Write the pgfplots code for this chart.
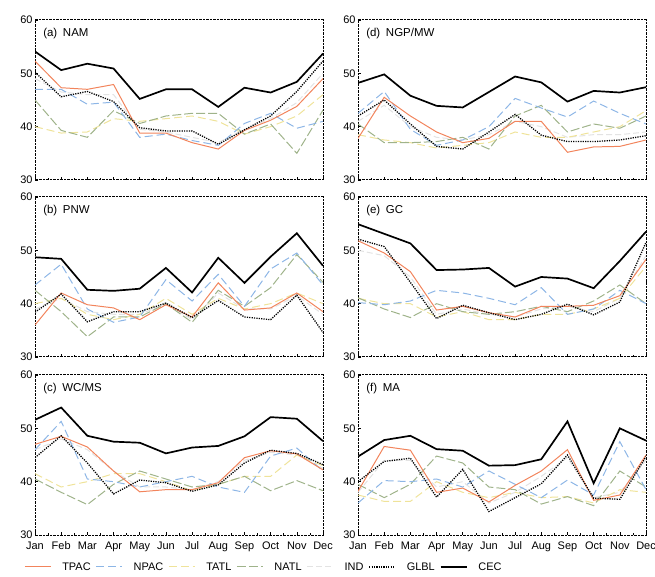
\documentclass[border=0pt]{standalone}
\usepackage{pgfplots}
\pgfplotsset{compat=1.18}
\usepackage{pgfplotstable}
\usepackage{fontspec}
\setmainfont{Liberation Sans}

\definecolor{ctpac}{HTML}{F2845C}
\definecolor{cnpac}{HTML}{8DB6E6}
\definecolor{ctatl}{HTML}{EFE39A}
\definecolor{cnatl}{HTML}{9FB38A}
\definecolor{cind}{HTML}{E3E3E3}

\pgfplotstableread{
m TPAC NPAC TATL NATL IND GLBL CEC
1 52.3 47.0 40.0 45.0 49.0 50.2 54.1
2 47.3 47.0 38.8 39.3 46.5 45.6 50.6
3 47.0 44.2 39.0 38.0 46.0 46.6 51.8
4 47.9 44.6 41.5 43.0 46.0 44.7 50.9
5 38.8 38.0 41.0 40.6 39.5 39.8 45.2
6 38.8 38.6 41.5 42.0 39.0 39.2 47.0
7 37.0 37.4 42.0 42.5 38.0 39.2 47.0
8 35.8 36.5 41.0 42.5 37.0 36.7 43.7
9 39.3 40.6 38.6 38.6 39.5 39.4 47.3
10 41.2 42.5 40.0 40.5 41.5 42.0 46.4
11 43.8 39.7 42.0 35.0 44.5 46.6 48.4
12 49.0 41.0 46.0 43.1 50.0 52.3 53.7
}\tnam
\pgfplotstableread{
m TPAC NPAC TATL NATL IND GLBL CEC
1 36.0 43.5 40.0 42.5 39.0 38.4 48.7
2 42.0 47.4 41.0 38.5 41.0 41.8 48.4
3 39.8 39.0 38.0 33.8 38.5 36.6 42.6
4 39.2 36.5 37.0 37.5 38.0 38.5 42.4
5 37.0 37.5 38.0 37.5 38.0 38.5 42.8
6 39.8 44.5 41.0 40.0 40.0 40.1 46.7
7 37.5 40.5 38.0 36.5 37.0 37.4 42.1
8 43.9 45.5 41.0 42.5 42.0 40.6 48.6
9 38.8 39.5 39.0 39.5 39.0 37.5 43.9
10 39.2 46.5 40.0 43.0 39.0 37.0 48.8
11 42.0 49.5 42.0 49.2 41.5 41.6 53.2
12 38.5 43.5 40.0 44.0 38.0 34.6 47.1
}\tpnw
\pgfplotstableread{
m TPAC NPAC TATL NATL IND GLBL CEC
1 47.0 46.0 41.5 40.5 46.0 44.5 51.6
2 48.5 51.3 39.0 38.0 48.0 48.6 53.9
3 46.5 40.5 40.0 35.7 46.0 43.5 48.6
4 42.0 40.0 41.5 39.5 42.0 37.7 47.5
5 38.1 39.0 41.5 42.0 39.0 40.3 47.3
6 38.5 40.0 40.0 40.5 39.0 39.8 45.3
7 38.5 41.0 38.3 39.0 38.5 38.2 46.4
8 39.8 39.0 39.5 39.5 40.0 39.4 46.7
9 44.5 38.0 41.0 41.0 44.0 43.5 48.5
10 45.8 44.8 41.0 38.3 45.5 45.9 52.1
11 45.2 46.3 45.0 40.2 45.0 45.3 51.8
12 42.2 42.0 43.0 38.3 42.5 43.2 47.6
}\twcms
\pgfplotstableread{
m TPAC NPAC TATL NATL IND GLBL CEC
1 37.8 42.5 38.5 40.5 41.0 42.0 48.2
2 45.5 46.6 37.5 37.0 44.0 45.0 49.8
3 42.0 39.5 37.0 37.0 40.0 40.5 45.8
4 39.0 36.5 36.0 37.2 38.0 36.3 43.9
5 37.0 37.5 36.5 38.0 37.5 35.8 43.6
6 37.8 40.0 37.0 35.8 38.5 39.0 46.5
7 41.0 45.3 39.0 42.0 41.0 42.3 49.4
8 41.0 43.5 38.0 44.0 40.0 38.4 48.3
9 35.2 41.8 38.0 39.0 38.0 37.2 44.7
10 36.2 44.8 39.0 40.5 38.5 37.2 46.7
11 36.3 42.5 40.0 39.7 38.5 37.5 46.4
12 37.5 40.5 43.0 42.0 39.0 38.3 47.4
}\tngp
\pgfplotstableread{
m TPAC NPAC TATL NATL IND GLBL CEC
1 51.8 40.2 41.0 41.1 50.0 52.1 54.9
2 49.5 39.8 40.0 39.0 49.0 50.7 53.1
3 46.0 40.5 40.0 37.4 45.0 44.0 51.3
4 38.8 42.5 37.5 40.0 38.0 37.2 46.3
5 39.5 42.0 38.5 38.5 39.0 39.7 46.4
6 38.3 41.0 37.0 38.0 38.0 38.3 46.7
7 37.5 39.8 37.0 38.5 37.5 37.0 43.2
8 39.5 43.0 38.0 39.5 39.0 38.0 45.0
9 39.5 38.0 38.0 38.5 39.5 39.9 44.7
10 39.7 39.0 39.0 40.5 38.5 37.9 42.9
11 41.5 42.5 41.0 43.5 41.0 40.3 48.0
12 48.3 40.0 47.0 40.0 49.0 51.5 53.5
}\tgc
\pgfplotstableread{
m TPAC NPAC TATL NATL IND GLBL CEC
1 38.2 36.0 37.5 39.5 38.0 40.0 44.7
2 46.6 40.2 36.3 37.0 44.0 43.8 47.8
3 45.9 40.0 36.3 39.5 44.0 44.4 48.6
4 38.0 40.5 40.0 44.8 39.0 37.1 46.1
5 38.8 39.0 38.0 43.5 40.0 42.3 45.8
6 36.2 42.0 37.0 39.0 36.0 34.4 43.0
7 39.3 39.5 38.0 38.5 38.0 37.0 43.1
8 42.0 37.0 37.0 35.8 41.0 39.6 44.2
9 46.0 40.3 37.2 37.2 44.5 45.0 51.3
10 36.5 37.5 36.0 35.5 37.0 36.9 39.7
11 37.5 47.5 38.5 42.0 38.0 36.7 50.0
12 45.0 38.5 38.0 39.0 44.0 44.7 47.7
}\tma

\tikzset{
  stpac/.style={draw=ctpac, line width=1pt},
  snpac/.style={draw=cnpac, line width=1pt, dash pattern=on 8pt off 4pt},
  statl/.style={draw=ctatl, line width=1pt, dash pattern=on 8pt off 4pt},
  snatl/.style={draw=cnatl, line width=1pt, dash pattern=on 9pt off 3pt},
  sind/.style={draw=cind, line width=1pt, dash pattern=on 6pt off 3pt},
  sglbl/.style={draw=black, line width=1.3pt, dash pattern=on 1.2pt off 1.2pt},
  scec/.style={draw=black, line width=1.7pt},
}
\pgfplotsset{
  panel/.style={
    scale only axis, width=288bp, height=160bp, anchor=south west,
    xmin=1, xmax=12, ymin=30, ymax=60,
    ytick={30,40,50,60}, xtick={1,...,12}, xticklabels={},
    minor x tick num=1,
    axis line style={black, line width=1pt, dash pattern=on 2.5pt off 1pt},
    tick style={black, line width=0.6pt},
    major tick length=3bp, minor tick length=2bp,
    tick align=inside, tick pos=left,
    ticklabel style={font=\fontsize{11}{12}\selectfont},
    yticklabel style={xshift=1bp},
    /pgf/number format/assume math mode=true,
  },
  monthlabels/.style={xticklabels={Jan,Feb,Mar,Apr,May,Jun,Jul,Aug,Sep,Oct,Nov,Dec},
    xticklabel style={yshift=-3bp}},
}
\newcommand{\drawall}[1]{%
  \addplot[sind, forget plot] table[x=m,y=IND]{#1};
  \addplot[statl, forget plot] table[x=m,y=TATL]{#1};
  \addplot[snatl, forget plot] table[x=m,y=NATL]{#1};
  \addplot[snpac, forget plot] table[x=m,y=NPAC]{#1};
  \addplot[stpac, forget plot] table[x=m,y=TPAC]{#1};
  \addplot[sglbl, forget plot] table[x=m,y=GLBL]{#1};
  \addplot[scec, forget plot] table[x=m,y=CEC]{#1};
}
\newcommand{\plabel}[1]{\node[anchor=west, font=\fontsize{11.5}{13}\selectfont, inner sep=0pt] at (rel axis cs:0.028,0.915) {#1};}

\begin{document}
\begin{tikzpicture}[x=1bp,y=1bp]
\useasboundingbox (0,0) rectangle (655,577);
% left column
\begin{axis}[panel, at={(35bp,397bp)}]
\drawall{\tnam}
\plabel{(a)\enspace NAM}
\end{axis}
\begin{axis}[panel, at={(35bp,220bp)}]
\drawall{\tpnw}
\plabel{(b)\enspace PNW}
\end{axis}
\begin{axis}[panel, monthlabels, at={(35bp,42bp)},
  legend columns=7,
  legend style={at={(0.795,-0.2)}, anchor=center, draw=none, fill=none,
    font=\fontsize{11}{12}\selectfont, column sep=0pt,
    /tikz/every even column/.append style={column sep=3bp},
    /tikz/every odd column/.append style={column sep=9bp}},
  legend image code/.code={\draw[#1] (0bp,0bp) -- (26bp,0bp);}]
\addlegendimage{stpac}\addlegendentry{TPAC}
\addlegendimage{snpac}\addlegendentry{NPAC}
\addlegendimage{statl}\addlegendentry{TATL}
\addlegendimage{snatl}\addlegendentry{NATL}
\addlegendimage{sind}\addlegendentry{IND}
\addlegendimage{sglbl}\addlegendentry{GLBL}
\addlegendimage{scec}\addlegendentry{CEC}
\drawall{\twcms}
\plabel{(c)\enspace WC/MS}
\end{axis}
% right column
\begin{axis}[panel, at={(358bp,397bp)}]
\drawall{\tngp}
\plabel{(d)\enspace NGP/MW}
\end{axis}
\begin{axis}[panel, at={(358bp,220bp)}]
\drawall{\tgc}
\plabel{(e)\enspace GC}
\end{axis}
\begin{axis}[panel, monthlabels, at={(358bp,42bp)}]
\drawall{\tma}
\plabel{(f)\enspace MA}
\end{axis}
\end{tikzpicture}
\end{document}
